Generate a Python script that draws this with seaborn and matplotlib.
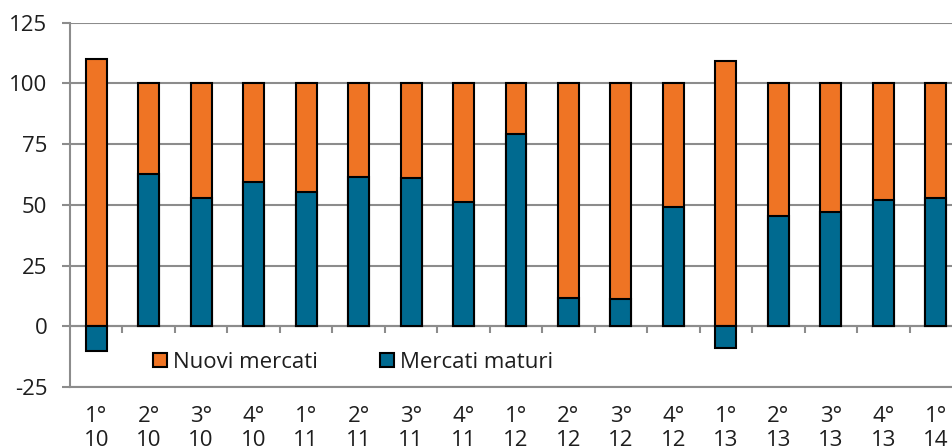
import matplotlib
matplotlib.use("Agg")
import matplotlib.pyplot as plt
from matplotlib.patches import Patch
from matplotlib.ticker import FixedLocator, NullLocator
import numpy as np
import pandas as pd
import seaborn as sns

# Quarterly periods (quarter ° / year)
quarters = ["1°", "2°", "3°", "4°", "1°", "2°", "3°", "4°", "1°",
            "2°", "3°", "4°", "1°", "2°", "3°", "4°", "1°"]
years = ["10", "10", "10", "10", "11", "11", "11", "11", "12",
         "12", "12", "12", "13", "13", "13", "13", "14"]

# Contributions (%) by market group
mercati_maturi = [-10.0, 62.7, 52.7, 59.3, 55.1, 61.3, 60.9, 51.0, 79.0,
                  11.8, 11.1, 49.0, -9.0, 45.3, 47.2, 52.1, 52.7]
nuovi_mercati = [110.0, 37.3, 47.3, 40.7, 44.9, 38.7, 39.1, 49.0, 21.0,
                 88.2, 88.9, 51.0, 109.0, 54.7, 52.8, 47.9, 47.3]

y_ticks = [-25, 0, 25, 50, 75, 100, 125]

ORANGE = "#EF7424"
BLUE = "#006A90"
GRID = "#8C8C8C"
TEXT = "#1E1E1E"

sns.set_style("white")
plt.rcParams["font.family"] = ["Open Sans", "DejaVu Sans"]
plt.rcParams["font.size"] = 16
plt.rcParams["axes.unicode_minus"] = False

periods = [f"{q}\n{y}" for q, y in zip(quarters, years)]
df = pd.DataFrame({
    "period": periods,
    "maturi": mercati_maturi,
    "nuovi": nuovi_mercati,
})
# New markets sit on top of the positive part of mature markets
df["top"] = df["nuovi"] + df["maturi"].clip(lower=0)

fig = plt.figure(figsize=(9.52, 4.48), dpi=100)
ax = fig.add_axes([70 / 952, 61 / 448, 892 / 952, 364.4 / 448])

bar_kw = dict(width=0.4, edgecolor="black", linewidth=1.5, ax=ax,
              order=periods, zorder=3)
sns.barplot(data=df, x="period", y="top", color=ORANGE, saturation=1, **bar_kw)
sns.barplot(data=df, x="period", y="maturi", color=BLUE, saturation=1, **bar_kw)

ax.set_xlim(-0.5, len(periods) - 0.5)
ax.set_ylim(-25, 125)
ax.set_yticks(y_ticks)
ax.set_xlabel("")
ax.set_ylabel("")

ax.yaxis.grid(True, color=GRID, linewidth=1.5)
ax.xaxis.grid(False)
ax.set_axisbelow(True)

for side in ("top", "right"):
    ax.spines[side].set_visible(False)
for side in ("left", "bottom"):
    ax.spines[side].set_color(GRID)
    ax.spines[side].set_linewidth(1.5)

ax.tick_params(axis="y", direction="out", length=5.8, width=1.5, color=GRID,
               pad=10.5, labelcolor=TEXT, labelsize=16, left=True)
ax.tick_params(axis="x", length=0, pad=13.5, labelcolor=TEXT, labelsize=16)

# Zero axis with separators between quarters
zero_frac = (0 - (-25)) / (125 - (-25))
sec = ax.secondary_xaxis(zero_frac)
sec.spines["bottom"].set_color(GRID)
sec.spines["bottom"].set_linewidth(1.5)
sec.xaxis.set_major_locator(NullLocator())
sec.xaxis.set_minor_locator(FixedLocator(np.arange(0.5, len(periods) - 1, 1.0)))
sec.tick_params(axis="x", which="minor", direction="out", length=5.2,
                width=1.5, color=GRID, labelbottom=False)

handles = [
    Patch(facecolor=ORANGE, edgecolor="black", linewidth=1.5, label="Nuovi mercati"),
    Patch(facecolor=BLUE, edgecolor="black", linewidth=1.5, label="Mercati maturi"),
]
ax.legend(handles=handles, loc="center left", bbox_to_anchor=(0.093, 0.068),
          ncol=2, frameon=False, fontsize=16, borderaxespad=0, borderpad=0,
          handlelength=0.63, handleheight=0.63, handletextpad=0.27,
          columnspacing=2.8, labelcolor=TEXT)

fig.savefig("out.png", dpi=100)
